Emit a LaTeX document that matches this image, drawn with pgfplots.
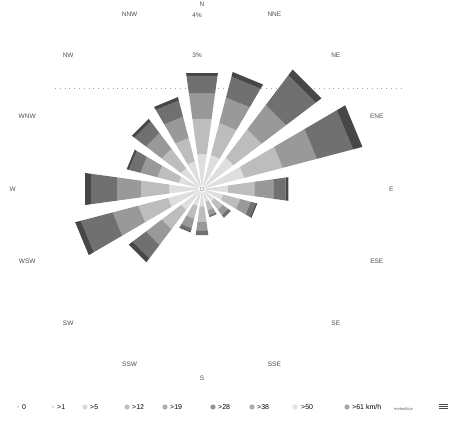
\documentclass[border=0pt]{standalone}
\usepackage{pgfplots}
\usepackage{pgfplotstable}
\pgfplotsset{compat=1.18}
\usepgfplotslibrary{polar}
\usepackage{fontspec}
\setmainfont{Liberation Sans}
\definecolor{band1}{gray}{0.87}
\definecolor{band2}{gray}{0.74}
\definecolor{band3}{gray}{0.60}
\definecolor{band4}{gray}{0.44}
\definecolor{band5}{gray}{0.28}
\pgfplotstableread{
brg r1 r2 r3 r4 r5
0     0.80 1.60 2.20 2.58 2.66
22.5  0.80 1.55 2.15 2.64 2.75
45    0.90 1.70 2.40 3.25 3.41
67.5  1.00 1.90 2.70 3.55 3.77
90    0.60 1.20 1.65 1.92 1.98
112.5 0.50 0.90 1.15 1.27 1.30
135   0.35 0.60 0.75 0.82 0.82
157.5 0.30 0.50 0.62 0.66 0.66
180   0.40 0.75 0.95 1.05 1.05
202.5 0.40 0.70 0.92 1.00 1.02
225   0.60 1.15 1.60 1.98 2.09
247.5 0.80 1.50 2.10 2.85 2.98
270   0.75 1.40 1.95 2.55 2.68
292.5 0.55 1.05 1.45 1.72 1.77
315   0.60 1.15 1.60 1.93 2.00
337.5 0.65 1.20 1.70 2.08 2.16
}\windtab
\begin{document}
\begin{tikzpicture}[x=1pt,y=1pt,font=\fontsize{6.5}{7}\selectfont]
\useasboundingbox (0,0) rectangle (450,428);
\draw[gray!70, dash pattern=on 0.8pt off 4pt] (55,340) -- (405,340);
\begin{polaraxis}[at={(202pt,239pt)}, anchor=center, scale only axis,
  width=387.2pt, height=387.2pt, ymin=0, ymax=4.4, hide axis, clip=false]
\pgfplotsforeachungrouped \row in {0,...,15}{%
  \pgfplotstablegetelem{\row}{brg}\of\windtab
  \pgfmathsetmacro\ang{90-\pgfplotsretval}%
  \pgfmathsetmacro\aL{\ang-7.8}%
  \pgfmathsetmacro\aR{\ang+7.8}%
  \def\rprev{0.08}%
  \pgfplotsforeachungrouped \k in {1,...,5}{%
    \pgfplotstablegetelem{\row}{r\k}\of\windtab
    \let\rcur=\pgfplotsretval
    \edef\cmd{\noexpand\addplot[fill=band\k, draw=none] coordinates {(\aL,\rprev) (\aR,\rprev) (\aR,\rcur) (\aL,\rcur)};}%
    \cmd
    \let\rprev=\rcur
  }%
}
\draw[gray] (axis cs:0,0) circle (2pt);
\node[text=black!70, inner sep=0pt] at (axis cs:90,4.2) {N};
\node[text=black!70, inner sep=0pt] at (axis cs:67.5,4.3) {NNE};
\node[text=black!70, inner sep=0pt] at (axis cs:45,4.3) {NE};
\node[text=black!70, inner sep=0pt] at (axis cs:22.5,4.3) {ENE};
\node[text=black!70, inner sep=0pt] at (axis cs:0,4.3) {E};
\node[text=black!70, inner sep=0pt] at (axis cs:-22.5,4.3) {ESE};
\node[text=black!70, inner sep=0pt] at (axis cs:-45,4.3) {SE};
\node[text=black!70, inner sep=0pt] at (axis cs:-67.5,4.3) {SSE};
\node[text=black!70, inner sep=0pt] at (axis cs:-90,4.3) {S};
\node[text=black!70, inner sep=0pt] at (axis cs:-112.5,4.3) {SSW};
\node[text=black!70, inner sep=0pt] at (axis cs:-135,4.3) {SW};
\node[text=black!70, inner sep=0pt] at (axis cs:-157.5,4.3) {WSW};
\node[text=black!70, inner sep=0pt] at (axis cs:180,4.3) {W};
\node[text=black!70, inner sep=0pt] at (axis cs:157.5,4.3) {WNW};
\node[text=black!70, inner sep=0pt] at (axis cs:135,4.3) {NW};
\node[text=black!70, inner sep=0pt] at (axis cs:112.5,4.3) {NNW};
\node[text=black!70, anchor=east, inner sep=0pt] at (axis cs:90,3.05) {3\%};
\node[text=black!70, anchor=east, inner sep=0pt] at (axis cs:90,3.95) {4\%};
\end{polaraxis}
% legend
\begin{scope}[shift={(0,21)},font=\fontsize{7}{8}\selectfont]
\fill[gray!45] (18,0) circle (1pt);    \node[anchor=west,inner sep=0pt] at (22,0) {0};
\fill[gray!25] (53,0) circle (1.5pt);  \node[anchor=west,inner sep=0pt] at (57,0) {>1};
\fill[gray!30] (85,0) circle (2.6pt);  \node[anchor=west,inner sep=0pt] at (90,0) {>5};
\fill[gray!50] (127,0) circle (2.6pt); \node[anchor=west,inner sep=0pt] at (132,0) {>12};
\fill[gray!65] (165,0) circle (2.6pt); \node[anchor=west,inner sep=0pt] at (170,0) {>19};
\fill[gray!85] (213,0) circle (2.6pt); \node[anchor=west,inner sep=0pt] at (218,0) {>28};
\fill[gray!65] (252,0) circle (2.6pt); \node[anchor=west,inner sep=0pt] at (257,0) {>38};
\fill[gray!22] (295,0) circle (2.6pt); \node[anchor=west,inner sep=0pt] at (301,0) {>50};
\fill[gray!70] (347,0) circle (2.6pt); \node[anchor=west,inner sep=0pt] at (352,0) {>61 km/h};
\node[anchor=west,inner sep=0pt,text=black!60,font=\fontsize{4}{5}\selectfont] at (394,-2) {meteoblue};
\fill[black!70] (439,1.5) rectangle (448,2.5);
\fill[black!70] (439,-0.5) rectangle (448,0.5);
\fill[black!70] (439,-2.5) rectangle (448,-1.5);
\end{scope}
\end{tikzpicture}
\end{document}
